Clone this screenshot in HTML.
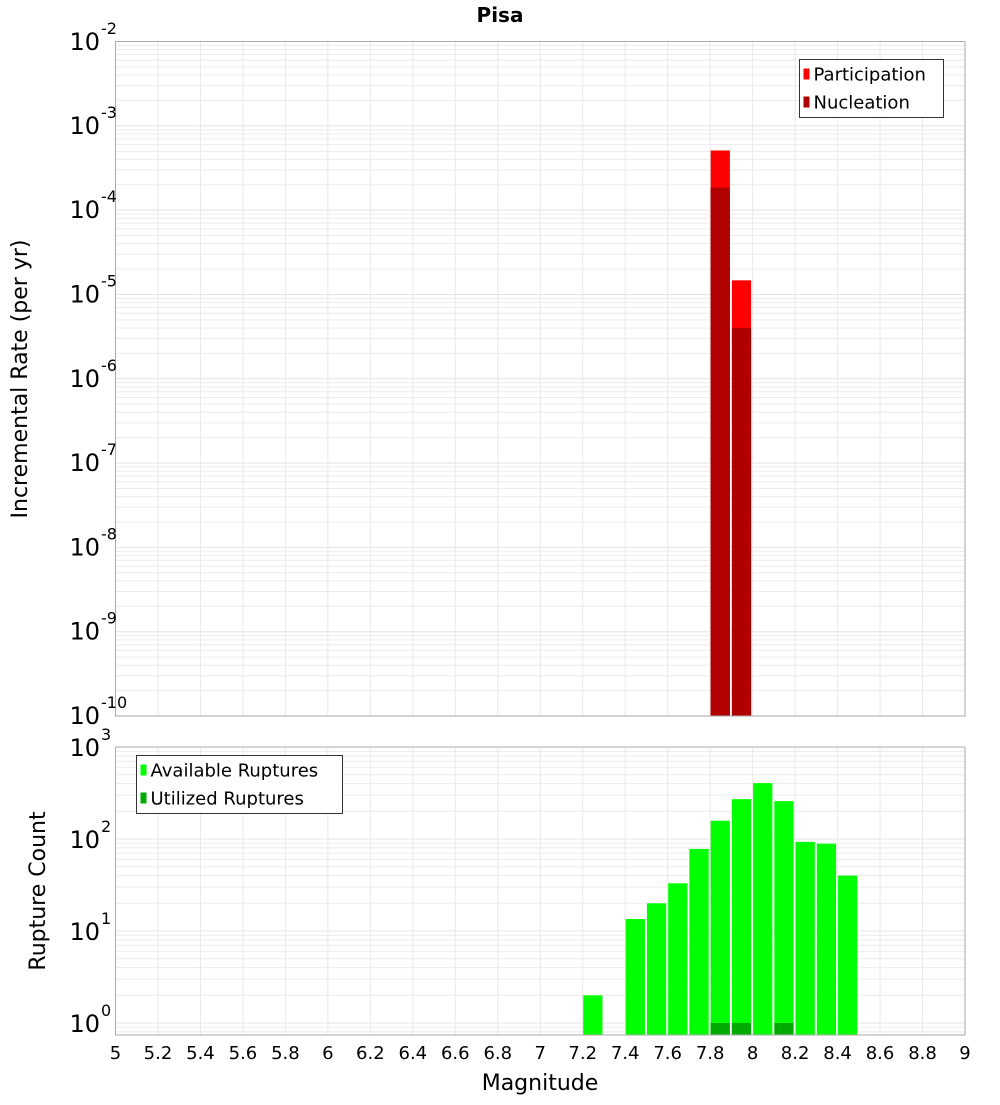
<!DOCTYPE html>
<html><head><meta charset="utf-8"><style>
body{margin:0;background:#fff;}
svg text{font-family:"DejaVu Sans","Liberation Sans",sans-serif;}
</style></head><body>
<svg id="c" width="1000" height="1100" xmlns="http://www.w3.org/2000/svg">
<text x="500" y="22" text-anchor="middle" font-size="20" font-weight="bold">Pisa</text>
<text transform="translate(27,379) rotate(-90)" text-anchor="middle" font-size="22">Incremental Rate (per yr)</text>
<text transform="translate(45,891) rotate(-90)" text-anchor="middle" font-size="22">Rupture Count</text>
<text x="540" y="1090" text-anchor="middle" font-size="22">Magnitude</text>
</svg>
<script>
const topMags=[7.85,7.95];
const participation=[5.1e-4,1.47e-5];
const nucleation=[1.86e-4,4.0e-6];
const botMags=[7.25,7.45,7.55,7.65,7.75,7.85,7.95,8.05,8.15,8.25,8.35,8.45];
const available=[2,13.5,20,33,78,158,271,405,258,93,89,40];
const utilMags=[7.85,7.95,8.15];
const utilized=[1,1,1];
const xTicks=[5,5.2,5.4,5.6,5.8,6,6.2,6.4,6.6,6.8,7,7.2,7.4,7.6,7.8,8,8.2,8.4,8.6,8.8,9];
const topExp=[-2,-3,-4,-5,-6,-7,-8,-9,-10];
const botExp=[3,2,1,0];

const svg=document.getElementById('c');
const NS='http://www.w3.org/2000/svg';
const L=115.5,R=965;
const X=m=>L+(m-5)/4*(R-L);
const topT=41.5,topB=716,botT=747,botB=1035;
const yTop=v=>topT+(-2-Math.log10(v))*(topB-topT)/8;
const yBot=v=>1023-Math.log10(v)*92;
function mk(tag,attrs,parent){const e=document.createElementNS(NS,tag);for(const k in attrs)e.setAttribute(k,attrs[k]);(parent||svg).appendChild(e);return e;}

function panel(name,t,b,yf,eMin,eMax){
  const g=mk('g',{});
  
  
  for(let e=eMin;e<eMax;e++)for(let k=1;k<10;k++){const y=yf(k*Math.pow(10,e));if(y<t||y>b)continue;
    const ln=mk('line',{x1:L,x2:R,y1:y,y2:y,stroke:k==1?'#e4e4e4':'#ececec','stroke-width':1},g);
    }
  xTicks.forEach(m=>{const ln=mk('line',{x1:X(m),x2:X(m),y1:t,y2:b,stroke:'#e8e8e8'},g);
    });
  return g;
}
function frame(t,b,name){const r=mk('rect',{x:L,y:t,width:R-L,height:b-t,fill:'none',stroke:'#aaa'});
  }
function bar(m,v,yf,b,col,name){const w=(R-L)/40;const y=yf(v);
  const r=mk('rect',{x:X(m)-w/2+0.5,y:y,width:w-2,height:b-y,fill:col});
  }

panel('top-grid',topT,topB,yTop,-10,-2);
topMags.forEach((m,i)=>bar(m,participation[i],yTop,topB,'#ff0000','participation-bar'));
topMags.forEach((m,i)=>bar(m,nucleation[i],yTop,topB,'#b00000','nucleation-bar'));
frame(topT,topB,'top-plot-frame');

panel('bottom-grid',botT,botB,yBot,-1,3);
botMags.forEach((m,i)=>bar(m,available[i],yBot,botB,'#00ff00','available-bar'));
utilMags.forEach((m,i)=>bar(m,utilized[i],yBot,botB,'#00aa00','utilized-bar'));
frame(botT,botB,'bottom-plot-frame');

function ylab(e,y,name){const t=mk('text',{x:100,y:y,'text-anchor':'end','font-size':24});t.textContent='10';
  
  const s=mk('text',{x:101,y:y-16,'font-size':16});s.textContent=String(e);
  }
topExp.forEach(e=>ylab(e,Math.max(yTop(Math.pow(10,e))+8,50),'top-y-tick-label'));
botExp.forEach(e=>ylab(e,Math.max(yBot(Math.pow(10,e))+9,756),'bottom-y-tick-label'));
xTicks.forEach(m=>{const t=mk('text',{x:X(m),y:1059,'text-anchor':'middle','font-size':18});t.textContent=String(m);
  });

function legend(x,y,w,items,name){const g=mk('g',{});
  mk('rect',{x:x,y:y,width:w,height:58,fill:'#fff',stroke:'#333'},g);
  items.forEach((it,i)=>{const cy=y+14+i*28;
    const sw=mk('rect',{x:x+4,y:cy-5,width:6,height:11,fill:it[1]},g);
    
    const t=mk('text',{x:x+14,y:cy+7,'font-size':18},g);t.textContent=it[0];
    });}
legend(799.5,59.5,144,[['Participation','#ff0000'],['Nucleation','#b00000']],'top-legend');
legend(136.5,755.5,206,[['Available Ruptures','#00ff00'],['Utilized Ruptures','#00aa00']],'bottom-legend');
</script>
</body></html>
